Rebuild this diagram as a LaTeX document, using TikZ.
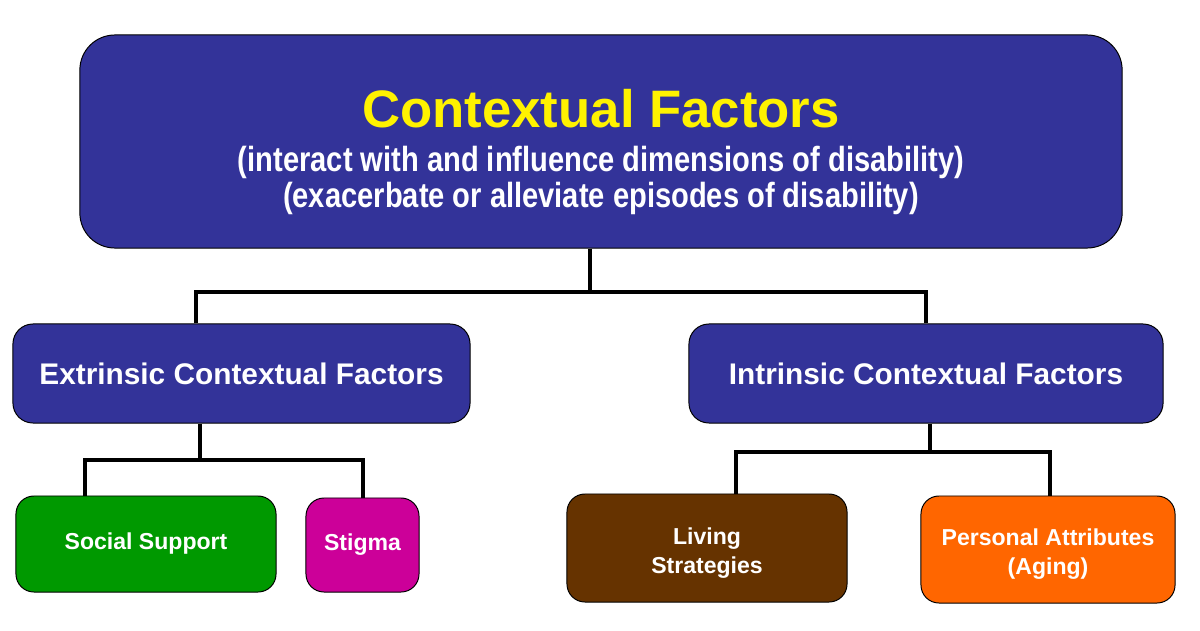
\documentclass[tikz,border=0pt]{standalone}
\usepackage{graphicx}
\usepackage{fontspec}
\setmainfont{Liberation Sans}
\definecolor{boxblue}{HTML}{333399}
\definecolor{boxgreen}{HTML}{009900}
\definecolor{boxpink}{HTML}{CC0099}
\definecolor{boxbrown}{HTML}{663300}
\definecolor{boxorange}{HTML}{FF6600}
\newcommand{\tallline}[1]{\scalebox{1}[1.2]{#1}}
\begin{document}
\begin{tikzpicture}[x=0.025cm,y=-0.025cm,
	box/.style={draw=black,line width=0.7pt,text=white,align=center},
	link/.style={line width=3.5pt,line join=miter}]
	\useasboundingbox (0,0) rectangle (1200,630);
	\node[box,fill=boxblue,rounded corners=0.875cm,minimum width=26.05cm,minimum height=5.325cm,font=\bfseries\fontsize{20.7}{25.6}\selectfont] (top) at (601,141.5)
		{\rule{0pt}{42pt}{\fontsize{37.5}{42}\selectfont\color{yellow}Contextual Factors}\\[5.7pt]
		\tallline{(interact with and influence dimensions of disability)}\\
		\tallline{(exacerbate or alleviate episodes of disability)}};
	\node[box,fill=boxblue,rounded corners=0.5cm,minimum width=11.425cm,minimum height=2.475cm,font=\bfseries\fontsize{21.2}{24}\selectfont] (ext) at (241.5,373.5) {Extrinsic Contextual Factors};
	\node[box,fill=boxblue,rounded corners=0.5cm,minimum width=11.85cm,minimum height=2.475cm,font=\bfseries\fontsize{21.2}{24}\selectfont] (int) at (926,373.5) {Intrinsic Contextual Factors};
	\node[box,fill=boxgreen,rounded corners=0.45cm,minimum width=6.5cm,minimum height=2.4cm,font=\bfseries\fontsize{16.4}{19}\selectfont] (soc) at (146,544) {Social Support};
	\node[box,fill=boxpink,rounded corners=0.45cm,minimum width=2.825cm,minimum height=2.35cm,font=\bfseries\fontsize{16.4}{19}\selectfont] (stig) at (362.5,545) {Stigma};
	\node[box,fill=boxbrown,rounded corners=0.45cm,minimum width=7cm,minimum height=2.7cm,font=\bfseries\fontsize{16.4}{20.6}\selectfont] (liv) at (707,548) {\rule{0pt}{19pt}Living\\Strategies};
	\node[box,fill=boxorange,rounded corners=0.45cm,minimum width=6.35cm,minimum height=2.675cm,font=\bfseries\fontsize{16.4}{20.6}\selectfont] (pers) at (1048,549.5) {\rule{0pt}{18pt}Personal Attributes\\(Aging)};
	% junctions
	\coordinate (ja) at (590,292);
	\coordinate (jal) at (196,292);
	\coordinate (jar) at (926,292);
	\coordinate (jb) at (200,460);
	\coordinate (jbl) at (85,460);
	\coordinate (jbr) at (363,460);
	\coordinate (jc) at (930,452);
	\coordinate (jcl) at (736,452);
	\coordinate (jcr) at (1050,452);
	\draw[link] (top.south -| ja) -- (ja);
	\draw[link] (ext.north -| jal) -- (jal) -- (jar) -- (int.north -| jar);
	\draw[link] (ext.south -| jb) -- (jb);
	\draw[link] (soc.north -| jbl) -- (jbl) -- (jbr) -- (stig.north -| jbr);
	\draw[link] (int.south -| jc) -- (jc);
	\draw[link] (liv.north -| jcl) -- (jcl) -- (jcr) -- (pers.north -| jcr);
\end{tikzpicture}
\end{document}
